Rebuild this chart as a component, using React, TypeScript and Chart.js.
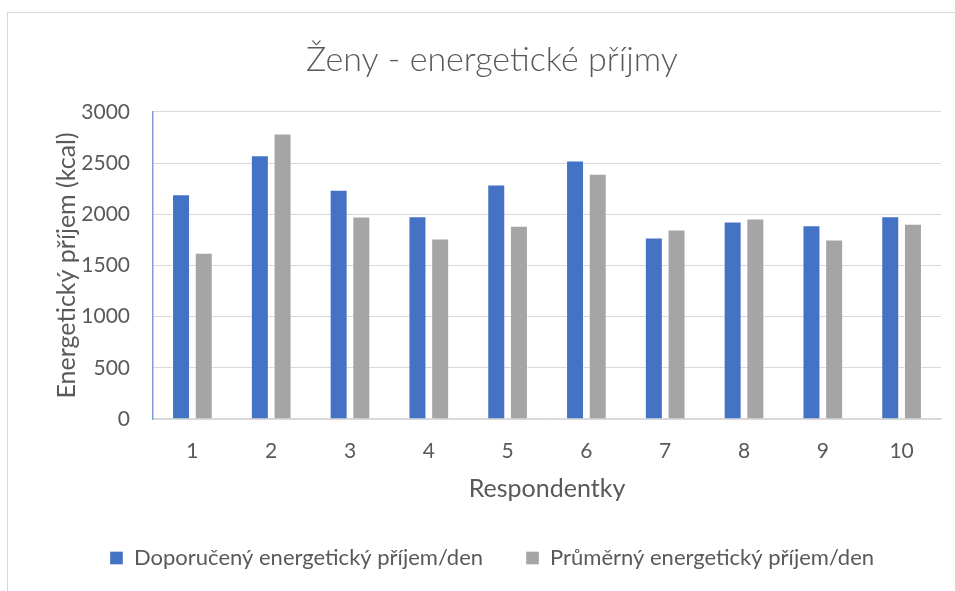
import React, { useEffect, useRef } from "react";
import { Chart, registerables } from "chart.js";

Chart.register(...registerables);

const categories = ["1", "2", "3", "4", "5", "6", "7", "8", "9", "10"];
const recommended = [2196, 2575, 2239, 1980, 2291, 2525, 1772, 1928, 1892, 1980];
const average = [1624, 2788, 1977, 1762, 1886, 2395, 1850, 1958, 1752, 1906];
const seriesNames = ["Doporučený energetický příjem/den", "Průměrný energetický příjem/den"];
const titleText = "Ženy - energetické příjmy";
const xTitle = "Respondentky";
const yTitle = "Energetický příjem (kcal)";

const FONT = "Lato, 'Open Sans', sans-serif";
const TEXT = "#595959";

export default function App() {
  const ref = useRef<HTMLCanvasElement | null>(null);
  useEffect(() => {
    document.body.style.margin = "0";
    const canvas = ref.current;
    if (!canvas) return;
    const chart = new Chart(canvas, {
      type: "bar",
      data: {
        labels: categories,
        datasets: [
          {
            label: seriesNames[0],
            data: recommended,
            backgroundColor: "#4472C4",
            borderColor: "rgba(255,255,255,0.35)",
            borderWidth: 1,
            categoryPercentage: 0.576,
            barPercentage: 0.793,
          },
          {
            label: seriesNames[1],
            data: average,
            backgroundColor: "#A5A5A5",
            borderColor: "rgba(255,255,255,0.35)",
            borderWidth: 1,
            categoryPercentage: 0.576,
            barPercentage: 0.793,
          },
        ],
      },
      options: {
        responsive: false,
        animation: false,
        devicePixelRatio: 1,
        layout: { padding: { left: 43, right: 14, top: 12, bottom: 12 } },
        plugins: {
          title: {
            display: true,
            text: titleText,
            color: TEXT,
            font: { family: FONT, size: 34, weight: "300", lineHeight: 1.2 },
            padding: { top: 28, bottom: 31 },
          },
          legend: {
            display: true,
            position: "bottom",
            labels: {
              color: TEXT,
              font: { family: FONT, size: 22, lineHeight: 1.2 },
              boxWidth: 13,
              boxHeight: 13,
              padding: 43,
            },
          },
          tooltip: { enabled: false },
        },
        scales: {
          x: {
            grid: { display: false, drawTicks: false },
            border: { display: true, color: "#D9D9D9", width: 1.5 },
            ticks: { color: TEXT, font: { family: FONT, size: 21 }, padding: 20 },
            title: {
              display: true,
              text: xTitle,
              color: TEXT,
              font: { family: FONT, size: 25, lineHeight: 1.2 },
              padding: { top: 0, bottom: 0 },
            },
            afterFit: (s: any) => {
              s.height = 85;
            },
          },
          y: {
            min: 0,
            max: 3000,
            ticks: {
              stepSize: 500,
              color: TEXT,
              font: { family: FONT, size: 21 },
              padding: 23,
              callback: (v: any) => String(v),
            },
            grid: { color: "#D9D9D9", lineWidth: 1, drawTicks: false },
            border: { display: true, color: "#7A9CD8", width: 1.5 },
            title: {
              display: true,
              text: yTitle,
              color: TEXT,
              font: { family: FONT, size: 25, lineHeight: 1.2 },
              padding: { top: 9, bottom: 0 },
            },
            afterFit: (s: any) => {
              s.width = 110;
            },
          },
        },
      },
    });
    return () => chart.destroy();
  }, []);
  return (
    <div style={{ position: "relative", width: 955, height: 591, overflow: "hidden", background: "#fff" }}>
      <div
        style={{
          position: "absolute",
          left: 7,
          top: 12,
          width: 1000,
          height: 1000,
          border: "1px solid #D9D9D9",
          pointerEvents: "none",
        }}
      />
      <canvas ref={ref} width={955} height={591} style={{ position: "absolute", left: 0, top: 0, width: 955, height: 591 }} />
    </div>
  );
}
